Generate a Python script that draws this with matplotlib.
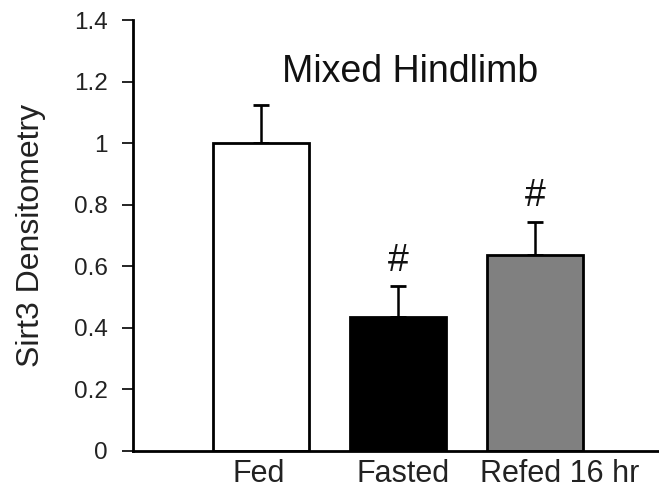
import matplotlib.pyplot as plt
import matplotlib as mpl
import matplotlib.transforms as mtransforms
import numpy as np

# 数据
groups = ['Fed', 'Fasted', 'Refed 16 hr']
means = [1.0, 0.435, 0.635]
sem = [0.125, 0.10, 0.11]
colors = ['white', 'black', '#808080']
marks = ['', '#', '#']
yticks = [0, 0.2, 0.4, 0.6, 0.8, 1, 1.2, 1.4]
ytick_labels = ['0', '0.2', '0.4', '0.6', '0.8', '1', '1.2', '1.4']

mpl.rcParams['font.family'] = ['Liberation Sans', 'DejaVu Sans']

fig = plt.figure(figsize=(6.59, 4.88), dpi=100)
ax = fig.add_axes([0.202, 0.076, 0.798, 0.883])

x = np.arange(len(groups))
ax.bar(x, means, width=0.7, color=colors, edgecolor='black', linewidth=2, zorder=2)
ax.errorbar(x, means, yerr=[np.zeros(len(sem)), sem], fmt='none', ecolor='black',
            elinewidth=1.8, capsize=6, capthick=2, zorder=1)

for xi, m, s, t in zip(x, means, sem, marks):
    if t:
        ax.text(xi, m + s + 0.025, t, ha='center', va='bottom', fontsize=27, color='#111111')

ax.text(1.085, 1.23, 'Mixed Hindlimb', ha='center', va='center', fontsize=27, color='#111111')

ax.set_xlim(-0.93, 2.9)
ax.set_ylim(0, 1.4)
ax.set_yticks(yticks)
ax.set_yticklabels(ytick_labels, color='#222222')
ax.set_xticks(x)
ax.set_xticklabels(groups, color='#222222')
ax.tick_params(axis='y', direction='out', length=8, width=1.2, labelsize=17.5, pad=10)
ax.tick_params(axis='x', length=0, labelsize=22, pad=6)
ax.set_ylabel('Sirt3 Densitometry', fontsize=23, labelpad=20, color='#222222')

# x 标签略微偏移，与原图一致
label_shift = [-2, 5, 24]
for lab, dx in zip(ax.get_xticklabels(), label_shift):
    lab.set_transform(lab.get_transform() + mtransforms.ScaledTranslation(dx / 100, 0, fig.dpi_scale_trans))

ax.spines['top'].set_visible(False)
ax.spines['right'].set_visible(False)
ax.spines['left'].set_linewidth(2)
ax.spines['bottom'].set_linewidth(2)

plt.savefig('out.png', dpi=100)
plt.close()
